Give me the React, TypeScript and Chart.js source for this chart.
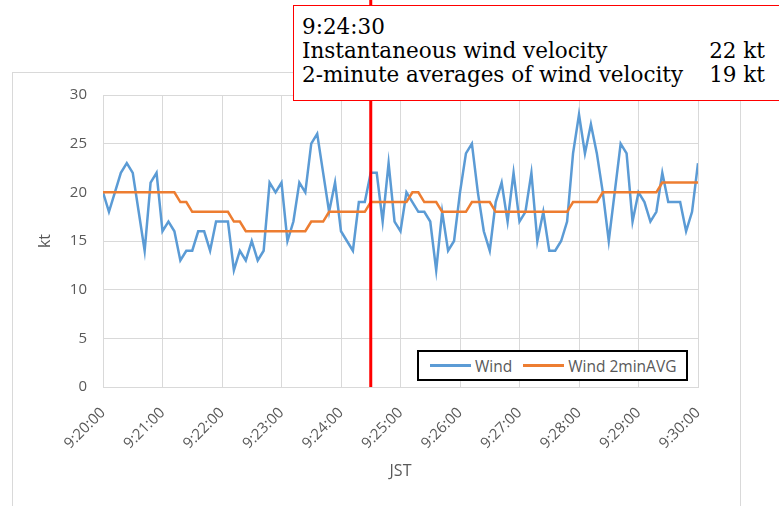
import React, { useEffect, useRef } from 'react';
import { Chart, registerables } from 'chart.js';

Chart.register(...registerables);

// ---- data ----
const tickLabels = ['9:20:00', '9:21:00', '9:22:00', '9:23:00', '9:24:00', '9:25:00', '9:26:00', '9:27:00', '9:28:00', '9:29:00', '9:30:00'];
const sampleIntervalSec = 6;
const wind = [
  20, 18, 20, 22, 23, 22, 18, 14, 21, 22,
  16, 17, 16, 13, 14, 14, 16, 16, 14, 17,
  17, 17, 12, 14, 13, 15, 13, 14, 21, 20,
  21, 15, 17, 21, 20, 25, 26, 22, 18, 21,
  16, 15, 14, 19, 19, 22, 22, 17, 23, 17,
  16, 20, 19, 18, 18, 17, 12, 18, 14, 15,
  20, 24, 25, 20, 16, 14, 19, 21, 17, 22,
  17, 18, 22, 15, 18, 14, 14, 15, 17, 24,
  28, 24, 27, 24, 20, 15, 20, 25, 24, 17,
  20, 19, 17, 18, 22, 19, 19, 19, 16, 18,
  23,
];
const wind2minAvg = [
  20, 20, 20, 20, 20, 20, 20, 20, 20, 20,
  20, 20, 20, 19, 19, 18, 18, 18, 18, 18,
  18, 18, 17, 17, 16, 16, 16, 16, 16, 16,
  16, 16, 16, 16, 16, 17, 17, 17, 18, 18,
  18, 18, 18, 18, 18, 19, 19, 19, 19, 19,
  19, 19, 20, 20, 19, 19, 19, 18, 18, 18,
  18, 18, 19, 19, 19, 19, 18, 18, 18, 18,
  18, 18, 18, 18, 18, 18, 18, 18, 18, 19,
  19, 19, 19, 19, 20, 20, 20, 20, 20, 20,
  20, 20, 20, 20, 21, 21, 21, 21, 21, 21,
  21,
];
const seriesNames = ['Wind', 'Wind 2minAVG'];
const markerLabel = '9:24:30';
const markerSec = 270;
const yTicks = [0, 5, 10, 15, 20, 25, 30];

const BLUE = '#5B9BD5';
const ORANGE = '#ED7D31';
const GRID = '#D9D9D9';
const TEXT = '#595959';
const FONT = "'Open Sans', sans-serif";

const markerPlugin = {
  id: 'markerLine',
  afterDatasetsDraw(chart: any) {
    const x = chart.scales.x.getPixelForValue(markerSec);
    const ctx = chart.ctx;
    ctx.save();
    ctx.strokeStyle = '#FF0000';
    ctx.lineWidth = 3;
    ctx.beginPath();
    ctx.moveTo(x, 0);
    ctx.lineTo(x, chart.chartArea.bottom);
    ctx.stroke();
    ctx.restore();
  },
};

export default function App() {
  const canvasRef = useRef<HTMLCanvasElement | null>(null);

  useEffect(() => {
    if (!canvasRef.current) return;
    const toPts = (arr: number[]) => arr.map((v, i) => ({ x: i * sampleIntervalSec, y: v }));
    const chart = new Chart(canvasRef.current, {
      type: 'line',
      data: {
        datasets: [
          { label: seriesNames[0], data: toPts(wind), borderColor: BLUE, backgroundColor: BLUE, borderWidth: 2.5, pointRadius: 0, tension: 0, order: 2 },
          { label: seriesNames[1], data: toPts(wind2minAvg), borderColor: ORANGE, backgroundColor: ORANGE, borderWidth: 2.5, pointRadius: 0, tension: 0, order: 1 },
        ],
      },
      options: {
        animation: false,
        responsive: false,
        maintainAspectRatio: false,
        layout: { padding: { left: 32, top: 95, right: 81, bottom: 22 } },
        plugins: { legend: { display: false }, tooltip: { enabled: false } },
        scales: {
          x: {
            type: 'linear',
            min: 0,
            max: (tickLabels.length - 1) * 60,
            afterFit: (s: any) => { s.height = 97; },
            afterBuildTicks: (s: any) => { s.ticks = tickLabels.map((_, i) => ({ value: i * 60 })); },
            ticks: {
              autoSkip: false,
              minRotation: 45,
              maxRotation: 45,
              padding: 17,
              color: TEXT,
              font: { family: FONT, size: 15 },
              callback: (v: any) => tickLabels[Math.round(Number(v) / 60)],
            },
            grid: { color: GRID, lineWidth: 1, drawTicks: false },
            border: { display: true, color: GRID, width: 1 },
            title: { display: true, text: 'JST', color: TEXT, font: { family: FONT, size: 16 }, padding: { top: 4, bottom: 3 } },
          },
          y: {
            min: 0,
            max: 30,
            afterFit: (s: any) => { s.width = 71; },
            afterBuildTicks: (s: any) => { s.ticks = yTicks.map((v) => ({ value: v })); },
            ticks: { padding: 16, color: TEXT, font: { family: FONT, size: 15 } },
            grid: { color: GRID, lineWidth: 1, drawTicks: false },
            border: { display: false },
            title: { display: true, text: 'kt', color: TEXT, font: { family: FONT, size: 16 }, padding: { top: 4, bottom: 4 } },
          },
        },
      },
      plugins: [markerPlugin],
    } as any);
    return () => chart.destroy();
  }, []);

  const mi = Math.round(markerSec / sampleIntervalSec);

  return (
    <div style={{ position: 'fixed', left: 0, top: 0, width: 779, height: 506, overflow: 'hidden', background: '#fff' }}>
      <div style={{ position: 'absolute', left: 12, top: 72, width: 729, height: 480, border: `1px solid ${GRID}`, boxSizing: 'border-box' }} />
      <canvas ref={canvasRef} width={779} height={506} style={{ position: 'absolute', left: 0, top: 0, width: 779, height: 506 }} />
      <div style={{ position: 'absolute', left: 293, top: 5, width: 520, height: 96, border: '1px solid #FF0000', boxSizing: 'border-box', background: '#fff', fontFamily: "'DejaVu Serif', serif", fontSize: 21.5, lineHeight: '24px', color: '#000', paddingLeft: 8, paddingTop: 9 }}>
        <div>{markerLabel}</div>
        <div style={{ display: 'flex', justifyContent: 'space-between', width: 463 }}>
          <span>Instantaneous wind velocity</span><span>{wind[mi]} kt</span>
        </div>
        <div style={{ display: 'flex', justifyContent: 'space-between', width: 463 }}>
          <span>2-minute averages of wind velocity</span><span>{wind2minAvg[mi]} kt</span>
        </div>
      </div>
      <div style={{ position: 'absolute', left: 417, top: 350, width: 271, height: 31, border: '2px solid #000', boxSizing: 'border-box', background: '#fff', fontFamily: FONT, fontSize: 15.5, color: TEXT, display: 'flex', alignItems: 'center', whiteSpace: 'nowrap' }}>
        <span style={{ display: 'inline-block', width: 41, height: 3, background: BLUE, marginLeft: 11, marginRight: 4 }} />
        <span>{seriesNames[0]}</span>
        <span style={{ display: 'inline-block', width: 41, height: 3, background: ORANGE, marginLeft: 11, marginRight: 4 }} />
        <span>{seriesNames[1]}</span>
      </div>
    </div>
  );
}
